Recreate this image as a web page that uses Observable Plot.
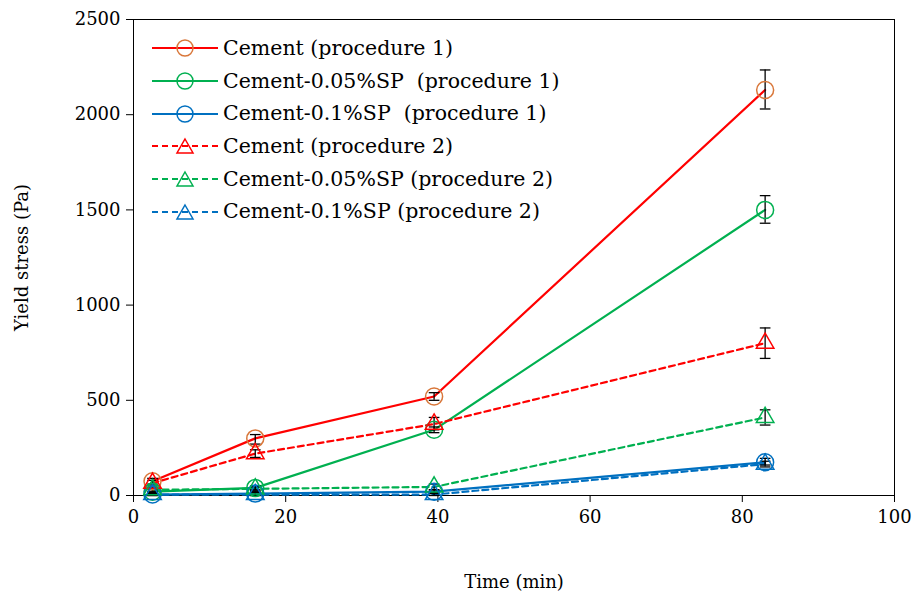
<!DOCTYPE html>
<html><head><meta charset="utf-8">
<script src="https://cdn.jsdelivr.net/npm/d3@7"></script>
<script src="https://cdn.jsdelivr.net/npm/@observablehq/plot@0.6"></script>
<style>
body{margin:0;background:#fff;font-family:"DejaVu Serif",serif;}
#wrap{position:relative;width:919px;height:597px;}
#legend{position:absolute;left:150px;top:32px;font-size:20.5px;line-height:32.7px;color:#000;}
#legend div{display:flex;align-items:center;height:32.7px;}
#legend svg{margin-right:3px;}
#chart text{font-weight:normal;}
</style></head><body>
<div id="wrap"><div id="chart"></div><div id="legend"></div></div>
<script>
const times = [2.5, 16, 39.5, 83];
const seriesNames = ["Cement (procedure 1)", "Cement-0.05%SP  (procedure 1)", "Cement-0.1%SP  (procedure 1)",
  "Cement (procedure 2)", "Cement-0.05%SP (procedure 2)", "Cement-0.1%SP (procedure 2)"];
const lineColors = ["#ff0000", "#00b050", "#0070c0", "#ff0000", "#00b050", "#0070c0"];
const markerColors = ["#d9773a", "#00b050", "#0070c0", "#ff0000", "#00b050", "#0070c0"];
const dashed = [false, false, false, true, true, true];
const values = [
  [75, 300, 520, 2130],
  [20, 40, 345, 1500],
  [5, 10, 20, 175],
  [65, 220, 375, 800],
  [30, 35, 45, 410],
  [5, 5, 5, 165]
];
const errLow = [
  [60, 270, 500, 2030],
  [10, 30, 330, 1430],
  [0, 0, 10, 160],
  [50, 200, 345, 720],
  [20, 25, 30, 370],
  [0, 0, 0, 150]
];
const errHigh = [
  [90, 320, 540, 2235],
  [30, 50, 360, 1575],
  [15, 20, 30, 195],
  [80, 240, 410, 880],
  [40, 45, 60, 450],
  [15, 15, 15, 180]
];

const rows = [];
values.forEach((vs, s) => vs.forEach((v, i) => rows.push({
  s, name: seriesNames[s], x: times[i], y: v, lo: errLow[s][i], hi: errHigh[s][i]
})));

const marks = [Plot.frame({stroke: "#000"})];
seriesNames.forEach((n, s) => {
  const d = rows.filter(r => r.s === s);
  marks.push(Plot.line(d, {x: "x", y: "y", stroke: lineColors[s], strokeWidth: 2.2,
    strokeDasharray: dashed[s] ? "6,4" : null}));
});
marks.push(Plot.ruleX(rows, {x: "x", y1: "lo", y2: "hi", stroke: "#000", strokeWidth: 1.3}));
marks.push(Plot.link(rows, {x1: d => d.x - 0.7, x2: d => d.x + 0.7, y1: "lo", y2: "lo", stroke: "#000", strokeWidth: 1.3}));
marks.push(Plot.link(rows, {x1: d => d.x - 0.7, x2: d => d.x + 0.7, y1: "hi", y2: "hi", stroke: "#000", strokeWidth: 1.3}));
seriesNames.forEach((n, s) => {
  const d = rows.filter(r => r.s === s);
  marks.push(Plot.dot(d, {x: "x", y: "y", r: dashed[s] ? 6.5 : 8.5, stroke: markerColors[s], strokeWidth: 1.5, fill: "none",
    symbol: dashed[s] ? "triangle" : "circle"}));
});

const chart = Plot.plot({
  width: 919, height: 597,
  marginLeft: 133, marginRight: 25, marginTop: 19, marginBottom: 102,
  style: {fontFamily: "DejaVu Serif", fontSize: "18px", color: "#000", background: "#fff"},
  x: {domain: [0, 100], ticks: [0, 20, 40, 60, 80, 100], tickSize: 7, tickPadding: 8, tickFormat: d3.format("d"),
      label: "Time (min)", labelAnchor: "center", labelArrow: "none", labelOffset: 92},
  y: {domain: [0, 2500], ticks: [0, 500, 1000, 1500, 2000, 2500], tickSize: 7, tickPadding: 6, tickFormat: d3.format("d"),
      label: "Yield stress (Pa)", labelAnchor: "center", labelArrow: "none", labelOffset: 118},
  marks
});
document.getElementById("chart").append(chart);

const leg = document.getElementById("legend");
seriesNames.forEach((n, s) => {
  const sym = dashed[s]
    ? `<polygon points="35,4 43,18 27,18" fill="none" stroke="${markerColors[s]}" stroke-width="1.5"/>`
    : `<circle cx="35" cy="11" r="8" fill="none" stroke="${markerColors[s]}" stroke-width="1.5"/>`;
  const div = document.createElement("div");
  div.innerHTML = `<svg width="70" height="22"><line x1="2" x2="68" y1="11" y2="11" stroke="${lineColors[s]}" stroke-width="2.2" ${dashed[s] ? 'stroke-dasharray="6,4"' : ''}/>${sym}</svg><span style="white-space:pre">${n}</span>`;
  leg.append(div);
});
</script>
</body></html>
